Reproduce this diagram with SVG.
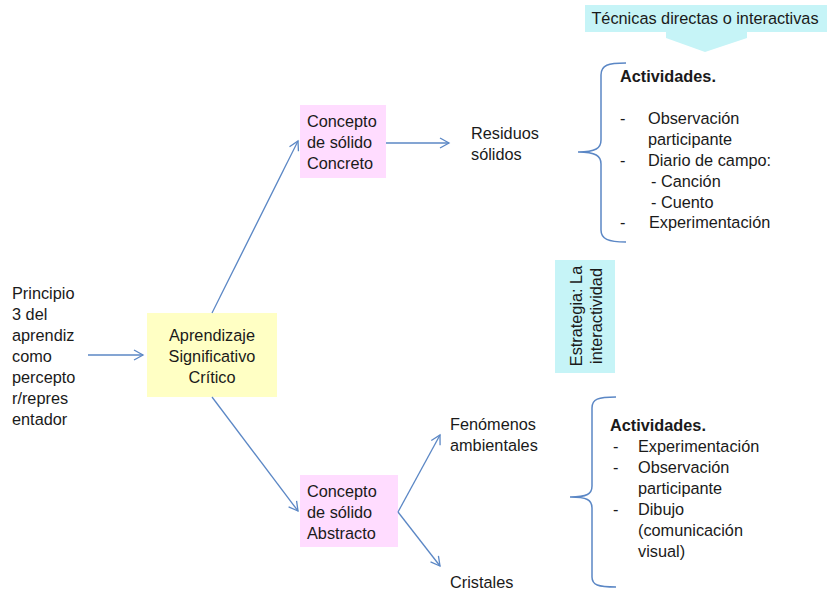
<svg xmlns="http://www.w3.org/2000/svg" width="831" height="598" viewBox="0 0 831 598">
<style>
text{font-family:"Liberation Sans",Arial,sans-serif;font-size:16.3px;fill:#1a1a1a}
.b{font-weight:bold}
.c{text-anchor:middle}
.ln{stroke:#5b87c5;stroke-width:1.3;fill:none}
.br{stroke:#5b87c5;stroke-width:1.5;fill:none}
</style>
<defs>
<marker id="ah" markerWidth="12" markerHeight="12" refX="10" refY="6" orient="auto" markerUnits="userSpaceOnUse">
<path d="M1,1 L10,6 L1,11" fill="none" stroke="#5b87c5" stroke-width="1.3"/>
</marker>
</defs>
<rect width="831" height="598" fill="#fff"/>

<g id="tecnicas">
<rect x="585" y="5" width="242" height="27" fill="#c6f4f7"/>
<polygon points="666,32 747,32 747,38 705,52 666,38" fill="#c6f4f7"/>
<text x="705" y="24" class="c">Técnicas directas o interactivas</text>
</g>

<g id="principio">
<text x="12" y="299">Principio</text>
<text x="12" y="320">3 del</text>
<text x="12" y="341">aprendiz</text>
<text x="12" y="362">como</text>
<text x="12" y="383">percepto</text>
<text x="12" y="404">r/repres</text>
<text x="12" y="425">entador</text>
</g>

<g id="aprendizaje">
<rect x="147" y="313" width="130" height="84" fill="#ffffc4"/>
<text x="212" y="341" class="c">Aprendizaje</text>
<text x="212" y="362" class="c">Significativo</text>
<text x="212" y="383" class="c">Crítico</text>
</g>

<g id="concreto">
<rect x="300" y="105" width="86" height="73" fill="#ffdcff"/>
<text x="307" y="127">Concepto</text>
<text x="307" y="148">de sólido</text>
<text x="307" y="169">Concreto</text>
</g>

<g id="residuos">
<text x="471" y="139">Residuos</text>
<text x="471" y="160">sólidos</text>
</g>

<g id="abstracto">
<rect x="300" y="475" width="98" height="72" fill="#ffdcff"/>
<text x="307" y="497">Concepto</text>
<text x="307" y="518">de sólido</text>
<text x="307" y="539">Abstracto</text>
</g>

<g id="fenomenos">
<text x="450" y="430">Fenómenos</text>
<text x="450" y="451">ambientales</text>
</g>

<g id="cristales">
<text x="450" y="588">Cristales</text>
</g>

<g id="estrategia">
<rect x="555" y="260" width="60" height="113" fill="#c6f4f7"/>
<g transform="translate(585,316) rotate(-90)">
<text x="0" y="-3" class="c">Estrategia: La</text>
<text x="0" y="17" class="c">interactividad</text>
</g>
</g>

<g id="actividades1">
<path class="br" d="M626,63 C608,63 601,65 601,75 L601,140 C601,148 596,152 578,152 C596,152 601,156 601,164 L601,230 C601,239 608,242 626,242"/>
<text x="620" y="82" class="b">Actividades.</text>
<text x="620" y="124">-</text><text x="648" y="124">Observación</text>
<text x="648" y="145">participante</text>
<text x="620" y="166">-</text><text x="648" y="166">Diario de campo:</text>
<text x="651" y="187">- Canción</text>
<text x="651" y="208">- Cuento</text>
<text x="620" y="228">-</text><text x="649" y="228">Experimentación</text>
</g>

<g id="actividades2">
<path class="br" d="M616,397 C598,397 592,399 592,408 L592,486 C592,494 587,497 570,497 C587,497 592,500 592,508 L592,577 C592,585 598,587 616,587"/>
<text x="610" y="431" class="b">Actividades.</text>
<text x="613" y="452">-</text><text x="638" y="452">Experimentación</text>
<text x="613" y="473">-</text><text x="638" y="473">Observación</text>
<text x="638" y="494">participante</text>
<text x="613" y="515">-</text><text x="638" y="515">Dibujo</text>
<text x="638" y="536">(comunicación</text>
<text x="638" y="557">visual)</text>
</g>

<g id="connectors">
<line class="ln" x1="88" y1="355" x2="143" y2="355" marker-end="url(#ah)"/>
<line class="ln" x1="212" y1="313" x2="298" y2="141" marker-end="url(#ah)"/>
<line class="ln" x1="212" y1="397" x2="298" y2="511" marker-end="url(#ah)"/>
<line class="ln" x1="386" y1="143" x2="449" y2="143" marker-end="url(#ah)"/>
<line class="ln" x1="398" y1="512" x2="440" y2="435" marker-end="url(#ah)"/>
<line class="ln" x1="398" y1="512" x2="440" y2="566" marker-end="url(#ah)"/>
</g>
</svg>
